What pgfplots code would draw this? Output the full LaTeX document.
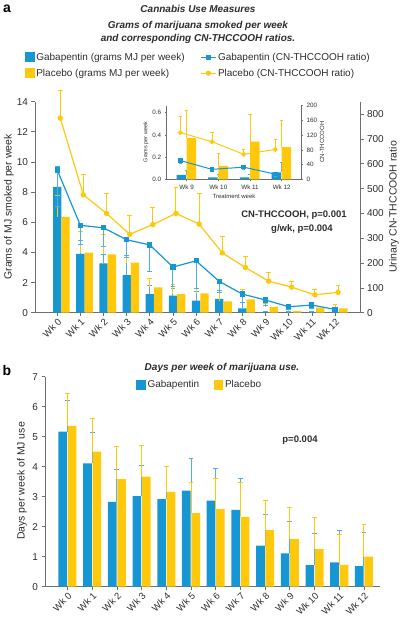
\documentclass[border=0pt]{standalone}
\usepackage{fontspec}
\setmainfont{Liberation Sans}
\usepackage{pgfplots}
\usepackage{pgfplotstable}
\pgfplotsset{compat=1.18}
\definecolor{gab}{RGB}{22,150,210}
\definecolor{gaberr}{RGB}{80,175,225}
\definecolor{pla}{RGB}{255,200,10}
\definecolor{axc}{RGB}{110,110,110}
\definecolor{txt}{RGB}{45,45,45}

% k: week; gb/gbe: gabapentin grams (+err); pb/pbe: placebo grams (+err)
% gr/gre: gabapentin CN-THCCOOH ratio (-err); pr/pre: placebo ratio (+err)
\pgfplotstableread{
k gb gbe pb pbe gr gre pr pre
0 8.35 1.38 6.35 1.40 575 146 784 112
1 3.90 0.92 3.98 1.40 352 76 475 80
2 3.28 0.55 3.87 1.29 342 77 400 80
3 2.50 1.28 3.32 1.39 294 70 316 75
4 1.24 0.58 1.68 0.62 273 108 355 70
5 1.13 0.47 1.24 0.60 184 80 400 103
6 0.80 0.60 1.29 0.33 209 110 357 123
7 0.91 0.55 0.75 0.60 126 45 241 64
8 0.29 0.42 0.89 0.65 75 32 182 43
9 0.04 0.05 0.37 0.25 51 24 127 33
10 0.02 0.03 0.12 0.11 24 10 103 24
11 0.02 0.03 0.34 0.25 31 15 72 22
12 0.06 0.09 0.29 0.24 13 6 82 28
}\topdata

\pgfplotstableread{
k gb gbe pb pbe gr gre pr pre
9 0.039 0.045 0.37 0.25 51 7 127 43
10 0.018 0.025 0.12 0.11 27 6 102 26
11 0.018 0.030 0.34 0.245 33 6 68 12
12 0.063 0.087 0.29 0.24 14 5 81 28
}\insetdata

\pgfplotstableread{
k gd gde pd pde
0 5.17 1.05 5.36 1.09
1 4.11 1.02 4.50 1.10
2 2.83 1.09 3.59 1.10
3 3.02 1.03 3.67 1.03
4 2.92 1.08 3.16 0.84
5 3.20 1.06 2.45 1.02
6 2.87 1.06 2.59 1.02
7 2.56 1.05 2.33 1.14
8 1.37 1.03 1.89 1.00
9 1.11 1.07 1.59 1.05
10 0.72 1.04 1.25 1.06
11 0.81 1.05 0.73 1.02
12 0.69 1.11 1.00 1.08
}\daydata

\pgfplotsset{
  base/.style={scale only axis, anchor=south west, clip=false,
    axis line style={axc, line width=0.8pt},
    tick style={axc, line width=0.7pt}, tick align=outside,
    major tick length=3.5pt,
    ticklabel style={font=\fontsize{10}{10}\selectfont, text=txt},
    /pgf/number format/assume math mode=true},
  sqleg/.style={legend image code/.code={\fill[##1, draw=none] (0pt,-4.8pt) rectangle (9.6pt,4.8pt);}},
  lnleg/.style={legend image code/.code={\draw[##1] plot coordinates {(7.5pt,0pt)}; \draw[##1, mark=none] (0pt,0pt) -- (15pt,0pt);}},
  gaberrbar/.style={error bars/.cd, y dir=plus, y explicit, error mark=-,
    error bar style={gaberr, line width=1pt},
    error mark options={rotate=90, gaberr, mark size=2.4pt, line width=1pt}},
  plaerrbar/.style={error bars/.cd, y dir=plus, y explicit, error mark=-,
    error bar style={pla, line width=1pt},
    error mark options={rotate=90, pla, mark size=2.4pt, line width=1pt}},
}

\begin{document}
\begin{tikzpicture}[x=1pt,y=1pt]
\useasboundingbox (0,0) rectangle (400,-620);

% ---------- titles panel a ----------
\node[font=\fontsize{14}{14}\selectfont\bfseries, text=black] at (7,-9) {a};
\node[font=\fontsize{10}{12}\selectfont\bfseries\itshape, text=txt] at (198,-9) {Cannabis Use Measures};
\node[font=\fontsize{10}{12}\selectfont\bfseries\itshape, text=txt] at (198,-26) {Grams of marijuana smoked per week};
\node[font=\fontsize{10}{12}\selectfont\bfseries\itshape, text=txt] at (198,-38.5) {and corresponding CN-THCCOOH ratios.};

% ---------- main top axis: bars (grams) ----------
\begin{axis}[base, at={(35pt,-312.7pt)}, width=325pt, height=211pt,
  xmin=-0.96, xmax=13.08, ymin=0, ymax=14,
  axis x line*=bottom, axis y line*=left,
  xtick={0,...,12},
  xticklabels={Wk 0,Wk 1,Wk 2,Wk 3,Wk 4,Wk 5,Wk 6,Wk 7,Wk 8,Wk 9,Wk 10,Wk 11,Wk 12},
  xticklabel style={rotate=45, anchor=north east, inner sep=1pt, font=\fontsize{9.5}{10}\selectfont},
  ytick={0,2,...,14}]
\addplot[ybar, bar width=0.36, bar shift=0, fill=gab, draw=none, gaberrbar]
  table[x=k, y=gb, y error=gbe] {\topdata};
\addplot[ybar, bar width=0.36, bar shift=0.36, fill=pla, draw=none, plaerrbar]
  table[x=k, y=pb, y error=pbe] {\topdata};
\end{axis}

% ---------- main top axis: lines (ratio) ----------
\begin{axis}[base, at={(35pt,-312.7pt)}, width=325pt, height=211pt,
  xmin=-0.96, xmax=13.08, ymin=0, ymax=850,
  axis x line=none, axis y line*=right,
  ytick={0,100,...,800},
  legend columns=2, legend cell align=left,
  legend style={draw=none, fill=none, at={(-0.031,1.24)}, anchor=north west,
    inner sep=0pt, row sep=4pt,
    nodes={inner sep=1.6pt, font=\fontsize{10}{12}\selectfont, text=txt},
    /tikz/every even column/.append style={column sep=14pt}}]
\addlegendimage{sqleg, fill=gab}
\addlegendimage{lnleg, gab, line width=1.1pt, mark=square*, mark size=1.8pt}
\addlegendimage{sqleg, fill=pla}
\addlegendimage{lnleg, pla, line width=1.1pt, mark=*, mark size=2pt}
\legend{Gabapentin (grams MJ per week), Gabapentin (CN-THCCOOH ratio), Placebo (grams MJ per week), Placebo (CN-THCCOOH ratio)}
\addplot[forget plot, gab, line width=1.2pt, mark=square*, mark size=2pt,
  error bars/.cd, y dir=minus, y explicit, error mark=-,
  error bar style={gaberr, line width=1pt},
  error mark options={rotate=90, gaberr, mark size=2.4pt, line width=1pt}]
  table[x=k, y=gr, y error=gre] {\topdata};
\addplot[forget plot, pla, line width=1.2pt, mark=*, mark size=2.1pt, plaerrbar]
  table[x expr=\thisrow{k}+0.13, y=pr, y error=pre] {\topdata};
\end{axis}

\node[rotate=90, font=\fontsize{10.5}{12}\selectfont, text=txt] at (9,-207) {Grams of MJ smoked per week};
\node[rotate=90, font=\fontsize{10.5}{12}\selectfont, text=txt] at (394,-207) {Urinary CN-THCCOOH ratio};
\node[font=\fontsize{9.5}{11}\selectfont\bfseries, text=txt] at (294,-215) {CN-THCCOOH, p=0.001};
\node[font=\fontsize{9.5}{11}\selectfont\bfseries, text=txt] at (302,-229) {g/wk, p=0.004};

% ---------- inset ----------
\begin{axis}[base, at={(166.7pt,-179.3pt)}, width=134.3pt, height=73.6pt,
  xmin=8.37, xmax=12.61, ymin=0, ymax=0.663,
  axis x line*=bottom, axis y line*=left,
  axis line style={axc, line width=0.5pt}, tick style={axc, line width=0.5pt},
  major tick length=2pt,
  ticklabel style={font=\fontsize{6.3}{7}\selectfont, text=txt},
  xtick={9,10,11,12}, xticklabels={Wk 9,Wk 10,Wk 11,Wk 12},
  ytick={0,0.2,0.4,0.6},
  yticklabel style={/pgf/number format/.cd, fixed, fixed zerofill, precision=1}]
\addplot[ybar, bar width=0.3, bar shift=-0.17, fill=gab, draw=none,
  error bars/.cd, y dir=plus, y explicit, error mark=-,
  error bar style={gaberr, line width=0.8pt},
  error mark options={rotate=90, gaberr, mark size=1.8pt, line width=0.8pt}]
  table[x=k, y=gb, y error=gbe] {\insetdata};
\addplot[ybar, bar width=0.3, bar shift=0.15, fill=pla, draw=none,
  error bars/.cd, y dir=plus, y explicit, error mark=-,
  error bar style={pla, line width=0.8pt},
  error mark options={rotate=90, pla, mark size=1.8pt, line width=0.8pt}]
  table[x=k, y=pb, y error=pbe] {\insetdata};
\end{axis}
\begin{axis}[base, at={(166.7pt,-179.3pt)}, width=134.3pt, height=73.6pt,
  xmin=8.37, xmax=12.61, ymin=0, ymax=200,
  axis x line=none, axis y line*=right,
  axis line style={axc, line width=0.5pt}, tick style={axc, line width=0.5pt},
  major tick length=2pt,
  ticklabel style={font=\fontsize{6.3}{7}\selectfont, text=txt},
  ytick={0,40,...,200}]
\addplot[gab, line width=1pt, mark=square*, mark size=1.8pt,
  error bars/.cd, y dir=both, y explicit, error mark=-,
  error bar style={gaberr, line width=0.8pt},
  error mark options={rotate=90, gaberr, mark size=1.8pt, line width=0.8pt}]
  table[x expr=\thisrow{k}-0.2, y=gr, y error=gre] {\insetdata};
\addplot[pla, line width=1pt, mark=*, mark size=1.9pt,
  error bars/.cd, y dir=plus, y explicit, error mark=-,
  error bar style={pla, line width=0.8pt},
  error mark options={rotate=90, pla, mark size=1.8pt, line width=0.8pt}]
  table[x expr=\thisrow{k}-0.2, y=pr, y error=pre] {\insetdata};
\end{axis}
\node[rotate=90, font=\fontsize{5.5}{6}\selectfont, text=txt] at (146,-142) {Grams per week};
\node[rotate=90, font=\fontsize{6}{7}\selectfont, text=txt] at (322,-142) {CN-THCCOOH};
\node[font=\fontsize{6}{7}\selectfont, text=txt] at (234,-196) {Treatment week};

% ---------- panel b ----------
\node[font=\fontsize{14}{14}\selectfont\bfseries, text=black] at (7,-370) {b};
\node[font=\fontsize{10}{12}\selectfont\bfseries\itshape, text=txt] at (222,-368) {Days per week of marijuana use.};

\begin{axis}[base, at={(45pt,-586.7pt)}, width=335pt, height=210pt,
  xmin=-0.91, xmax=12.65, ymin=0, ymax=7,
  axis x line*=bottom, axis y line*=left,
  xtick={0,...,12},
  xticklabels={Wk 0,Wk 1,Wk 2,Wk 3,Wk 4,Wk 5,Wk 6,Wk 7,Wk 8,Wk 9,Wk 10,Wk 11,Wk 12},
  xticklabel style={rotate=45, anchor=north east, inner sep=1pt, font=\fontsize{9.5}{10}\selectfont},
  ytick={0,1,...,7},
  legend columns=2, legend cell align=left,
  legend style={draw=none, fill=none, at={(0.272,0.99)}, anchor=north west,
    inner sep=0pt,
    nodes={inner sep=1.6pt, font=\fontsize{10}{12}\selectfont, text=txt},
    /tikz/every even column/.append style={column sep=13pt}}]
\addlegendimage{sqleg, fill=gab}
\addlegendimage{sqleg, fill=pla}
\legend{Gabapentin, Placebo}
\addplot[forget plot, ybar, bar width=0.35, bar shift=-0.19, fill=gab, draw=none, gaberrbar]
  table[x=k, y=gd, y error=gde] {\daydata};
\addplot[forget plot, ybar, bar width=0.35, bar shift=0.19, fill=pla, draw=none, plaerrbar]
  table[x=k, y=pd, y error=pde] {\daydata};
\end{axis}
\node[rotate=90, font=\fontsize{10.5}{12}\selectfont, text=txt] at (22,-481) {Days per week of MJ use};
\node[font=\fontsize{9.5}{11}\selectfont\bfseries, text=txt] at (300,-440) {p=0.004};

\end{tikzpicture}
\end{document}
